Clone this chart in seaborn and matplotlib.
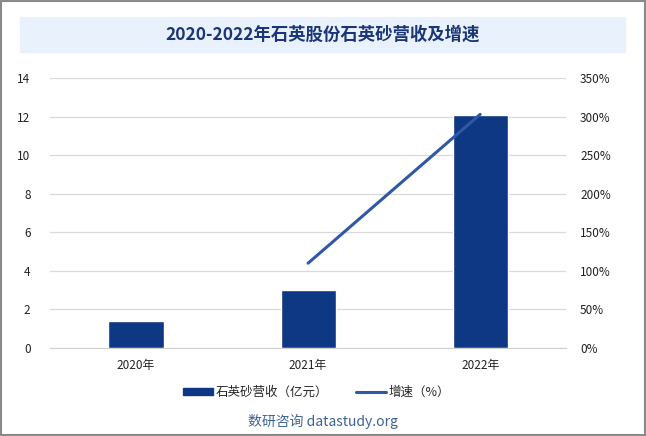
import numpy as np
import pandas as pd
import matplotlib
matplotlib.use('Agg')
import matplotlib.pyplot as plt
from matplotlib.patches import Rectangle, Patch
from matplotlib.lines import Line2D
import seaborn as sns

years = ['2020年', '2021年', '2022年']
revenue = [1.4, 3.0, 12.1]          # 亿元
growth = [np.nan, 110.0, 303.0]      # %

sns.set_style('white')
plt.rcParams['font.family'] = ['Noto Sans CJK SC', 'DejaVu Sans']

bar_color = '#0e3883'
line_color = '#2f58a6'

fig = plt.figure(figsize=(6.46, 4.36), dpi=100)
ax = fig.add_axes([0.0774, 0.2018, 0.799, 0.619])

df = pd.DataFrame({'year': years, 'revenue': revenue, 'growth': growth})
sns.barplot(data=df, x='year', y='revenue', color=bar_color, width=0.32,
            saturation=1, ax=ax)
ax.set_xlim(-0.5, 2.5)
ax.set_ylim(0, 14)
ax.set_yticks(range(0, 15, 2))
ax.set_xlabel('')
ax.set_ylabel('')
ax.grid(axis='y', color='#d9d9d9', lw=0.9)
ax.set_axisbelow(True)
for s in ['left', 'right', 'top']:
    ax.spines[s].set_visible(False)
ax.spines['bottom'].set_color('#d0d0d0')
ax.tick_params(axis='both', length=0, labelsize=8.5, colors='#222222')
ax.tick_params(axis='y', pad=14)
ax.tick_params(axis='x', pad=8)

ax2 = ax.twinx()
sns.lineplot(x=[0, 1, 2], y=growth, color=line_color, lw=2.2, ax=ax2)
ax2.set_ylim(0, 350)
ax2.set_yticks(range(0, 351, 50))
ax2.set_yticklabels([f'{v}%' for v in range(0, 351, 50)])
for s in ax2.spines.values():
    s.set_visible(False)
ax2.tick_params(axis='y', length=0, labelsize=8.5, colors='#222222', pad=10)

# legend
handles = [Patch(color=bar_color), Line2D([], [], color=line_color, lw=2.2)]
fig.legend(handles, ['石英砂营收（亿元）', '增速（%）'], loc='center',
           bbox_to_anchor=(0.49, 0.1), ncol=2, frameon=False, fontsize=9,
           handlelength=2.4, handleheight=0.45, columnspacing=2.2, handletextpad=0.2)

# title box
fig.patches.append(Rectangle((20 / 646, 1 - 52 / 436), 605 / 646, 35 / 436,
                             transform=fig.transFigure, color='#e9f1fc', zorder=0))
fig.text(0.5, 1 - 34.5 / 436, '2020-2022年石英股份石英砂营收及增速', ha='center', va='center',
         fontsize=12.5, fontweight='bold', color='#1b3676')

fig.text(0.5, 1 - 421 / 436, '数研咨询 datastudy.org', ha='center', va='center',
         fontsize=10, color='#3b6496')

# outer border
fig.patches.append(Rectangle((0.001, 0.002), 0.997, 0.996, transform=fig.transFigure,
                             fill=False, edgecolor='#8a8a8a', lw=1.5))

fig.savefig('out.png', dpi=100)
